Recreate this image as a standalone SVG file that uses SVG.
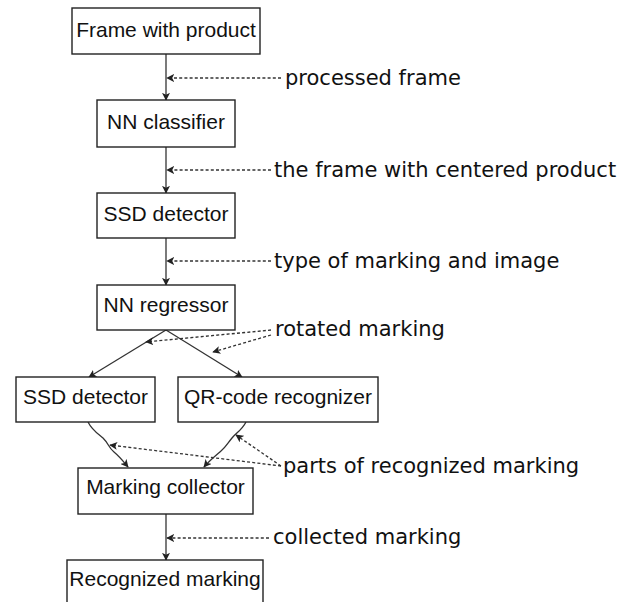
<svg xmlns="http://www.w3.org/2000/svg" width="632" height="602" viewBox="0 0 632 602">
<defs>
<style>
.box{fill:#fff;stroke:#222;stroke-width:1.4}
.nt{font-family:"Liberation Sans",Arial,sans-serif;font-size:21px;fill:#111;text-anchor:middle}
.lb{font-family:"DejaVu Sans",sans-serif;font-size:21px;fill:#111}
.ln{fill:none;stroke:#333;stroke-width:1.3}
.dl{fill:none;stroke:#333;stroke-width:1.3;stroke-dasharray:3 2.2}
</style>
<marker id="ah" viewBox="0 0 10 10" refX="9" refY="5" markerWidth="8" markerHeight="8" markerUnits="userSpaceOnUse" orient="auto">
<path d="M0,0 L10,5 L0,10 L2.5,5 z" fill="#222"/>
</marker>
</defs>
<rect width="632" height="602" fill="#fff"/>
<g id="connectors">
<line class="ln" x1="166" y1="54" x2="166" y2="100" marker-end="url(#ah)"/>
<line class="ln" x1="166" y1="147" x2="166" y2="193" marker-end="url(#ah)"/>
<line class="ln" x1="166" y1="238" x2="166" y2="285" marker-end="url(#ah)"/>
<line class="ln" x1="166" y1="330" x2="89" y2="377" marker-end="url(#ah)"/>
<line class="ln" x1="166" y1="330" x2="242" y2="377" marker-end="url(#ah)"/>
<path class="ln" d="M88,422 C92,430 97,433 103,438 C109,444 108,447 114,452 C120,457 123,461 128,467" marker-end="url(#ah)"/>
<path class="ln" d="M246,422 C242,430 236,433 232,438 C227,444 226,447 221,451 C214,457 209,461 204,467" marker-end="url(#ah)"/>
<line class="ln" x1="166" y1="514" x2="166" y2="560" marker-end="url(#ah)"/>
<line class="dl" x1="281" y1="78" x2="167" y2="78" marker-end="url(#ah)"/>
<line class="dl" x1="271" y1="170" x2="167" y2="170" marker-end="url(#ah)"/>
<line class="dl" x1="271" y1="261" x2="167" y2="261" marker-end="url(#ah)"/>
<line class="dl" x1="271" y1="330" x2="146" y2="342" marker-end="url(#ah)"/>
<line class="dl" x1="271" y1="335" x2="213" y2="352" marker-end="url(#ah)"/>
<line class="dl" x1="281" y1="466" x2="110" y2="445" marker-end="url(#ah)"/>
<line class="dl" x1="281" y1="466" x2="236" y2="435" marker-end="url(#ah)"/>
<line class="dl" x1="269" y1="538" x2="167" y2="538" marker-end="url(#ah)"/>
</g>
<g id="n1"><rect class="box" x="72" y="8" width="188" height="46"/><text class="nt" x="166" y="37">Frame with product</text></g>
<g id="n2"><rect class="box" x="97" y="100" width="138" height="47"/><text class="nt" x="166" y="129">NN classifier</text></g>
<g id="n3"><rect class="box" x="97" y="193" width="138" height="45"/><text class="nt" x="166" y="221">SSD detector</text></g>
<g id="n4"><rect class="box" x="97" y="285" width="138" height="45"/><text class="nt" x="166" y="312">NN regressor</text></g>
<g id="n5"><rect class="box" x="16" y="377" width="139" height="45"/><text class="nt" x="85.5" y="404">SSD detector</text></g>
<g id="n6"><rect class="box" x="178" y="377" width="200" height="45"/><text class="nt" x="278" y="404">QR-code recognizer</text></g>
<g id="n7"><rect class="box" x="78" y="468" width="175" height="46"/><text class="nt" x="165.5" y="494">Marking collector</text></g>
<g id="n8"><rect class="box" x="67" y="560" width="196" height="60"/><text class="nt" x="165" y="586">Recognized marking</text></g>
<g id="labels">
<text class="lb" x="285" y="85">processed frame</text>
<text class="lb" x="274" y="177">the frame with centered product</text>
<text class="lb" x="274" y="268">type of marking and image</text>
<text class="lb" x="275" y="336">rotated marking</text>
<text class="lb" x="283" y="473">parts of recognized marking</text>
<text class="lb" x="273" y="544">collected marking</text>
</g>
</svg>
